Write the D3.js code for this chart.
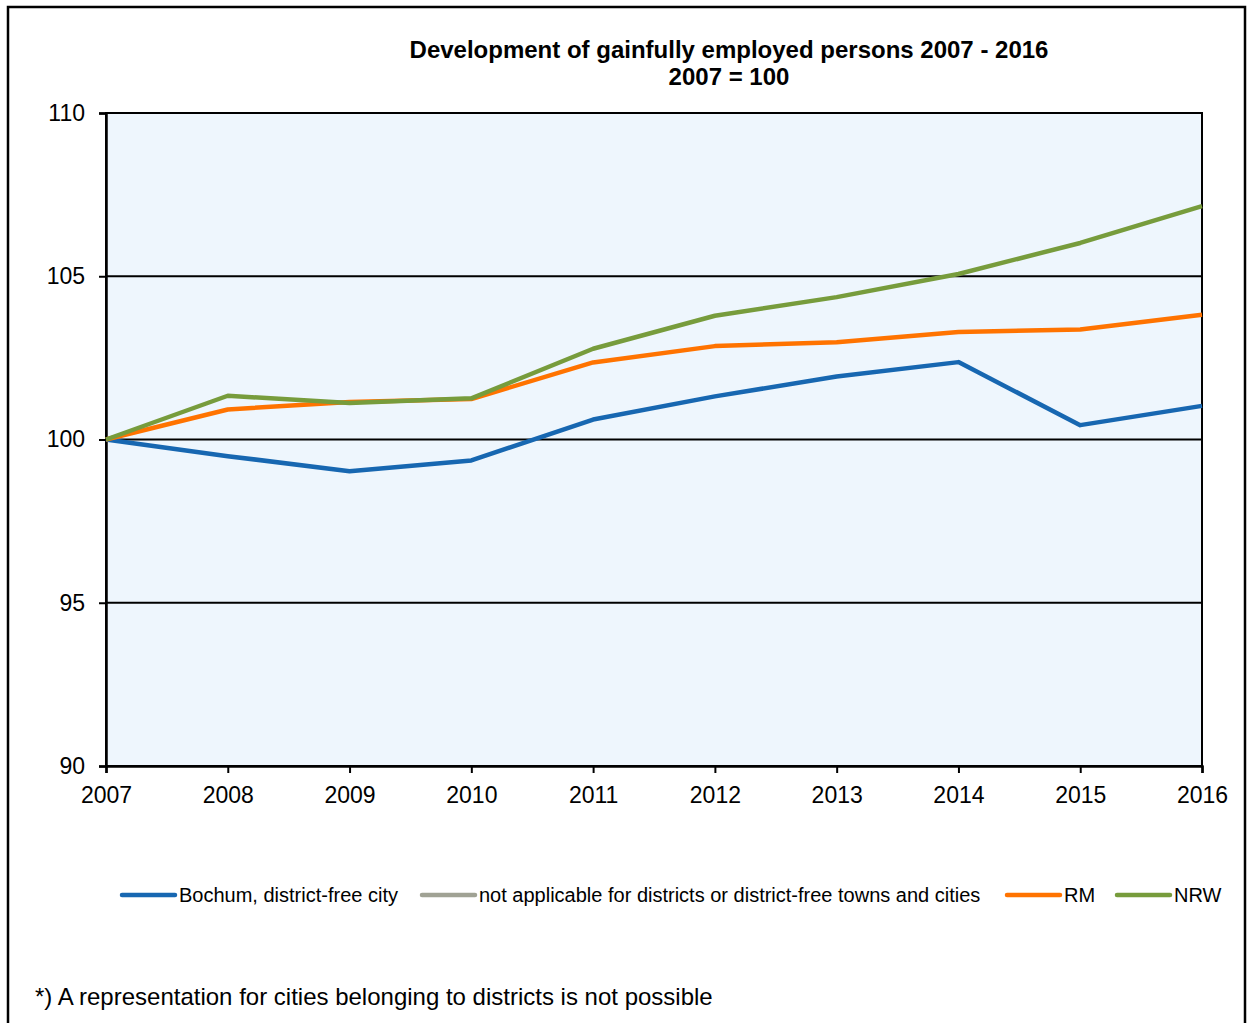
<!DOCTYPE html>
<html>
<head>
<meta charset="utf-8">
<script src="https://cdn.jsdelivr.net/npm/d3@7"></script>
<style>
  body { margin: 0; background: #fff; }
  svg { font-family: "Liberation Sans", Arial, sans-serif; }
</style>
</head>
<body>
<svg id="mainSvg" width="1249" height="1023"></svg>
<script>
// data (2007 = 100)
var years = [2007, 2008, 2009, 2010, 2011, 2012, 2013, 2014, 2015, 2016];
var bochum = [100, 99.49, 99.03, 99.36, 100.61, 101.32, 101.93, 102.37, 100.44, 101.03];
var rm = [100, 100.92, 101.15, 101.24, 102.36, 102.86, 102.98, 103.29, 103.37, 103.82];
var nrw = [100, 101.34, 101.12, 101.26, 102.78, 103.79, 104.36, 105.07, 106.02, 107.15];
var yTicks = [90, 95, 100, 105, 110];

var seriesNames = ["Bochum, district-free city", "not applicable for districts or district-free towns and cities", "RM", "NRW"];
var seriesColors = ["#1767B1", "#A0A294", "#FF7300", "#779C3C"];
var seriesValues = [bochum, [], rm, nrw];

var titleLines = ["Development of gainfully employed persons 2007 - 2016", "2007 = 100"];
var footnote = "*) A representation for cities belonging to districts is not possible";

var svg = d3.select("#mainSvg");

// outer frame
svg.append("rect").attr("x", 8).attr("y", 7).attr("width", 1237).attr("height", 1040)
    .style("fill", "#fff").style("stroke", "#000").style("stroke-width", 2.5);

var plot = {left: 106, right: 1202, top: 113, bottom: 766};

var x = d3.scaleLinear().domain([2007, 2016]).range([plot.left, plot.right]);
var y = d3.scaleLinear().domain([90, 110]).range([plot.bottom, plot.top]);

// plot background
svg.append("rect").attr("x", plot.left).attr("y", plot.top)
    .attr("width", plot.right - plot.left).attr("height", plot.bottom - plot.top)
    .style("fill", "#EEF6FD").style("stroke", "#000").style("stroke-width", 2);

// gridlines
svg.selectAll(".grid").data(yTicks.filter(function (d) { return d > 90 && d < 110; }))
    .enter().append("line").attr("class", "grid")
    .attr("x1", plot.left).attr("x2", plot.right)
    .attr("y1", function (d) { return y(d); }).attr("y2", function (d) { return y(d); })
    .style("stroke", "#000").style("stroke-width", 2);

// axes
var yAxis = d3.axisLeft(y).tickValues(yTicks).tickSize(7).tickPadding(14).tickFormat(d3.format("d"));
var gy = svg.append("g").attr("transform", "translate(" + plot.left + ",0)").call(yAxis);
var xAxis = d3.axisBottom(x).tickValues(years).tickSize(7).tickPadding(14).tickFormat(d3.format("d"));
var gx = svg.append("g").attr("transform", "translate(0," + plot.bottom + ")").call(xAxis);

[gx, gy].forEach(function (g) {
    g.select(".domain").style("stroke", "#000").style("stroke-width", 2.5);
    g.selectAll(".tick line").style("stroke", "#000").style("stroke-width", 2);
    g.selectAll(".tick text").style("font-size", "23px").style("fill", "#000")
        .style("font-family", "'Liberation Sans', Arial, sans-serif");
});

// series lines
var line = d3.line()
    .x(function (d, i) { return x(years[i]); })
    .y(function (d) { return y(d); });

svg.selectAll(".series").data(seriesValues.map(function (v, i) {
        return {values: v, color: seriesColors[i]};
    }).filter(function (d) { return d.values.length > 0; }))
    .enter().append("path").attr("class", "series")
    .attr("d", function (d) { return line(d.values); })
    .style("fill", "none").style("stroke", function (d) { return d.color; })
    .style("stroke-width", 4.5).style("stroke-linejoin", "round");

// title
svg.append("text").attr("x", 729).attr("y", 58).attr("text-anchor", "middle")
    .style("font-weight", "bold").style("font-size", "24px")
    .selectAll("tspan").data(titleLines).enter().append("tspan")
    .attr("x", 729).attr("dy", function (d, i) { return i ? 27 : 0; })
    .text(function (d) { return d; });

// legend
var legendX = [120, 420, 1005, 1115];
var leg = svg.selectAll(".legend").data(seriesNames).enter().append("g")
    .attr("class", "legend")
    .attr("transform", function (d, i) { return "translate(" + legendX[i] + ",895)"; });
leg.append("line").attr("x1", 2).attr("x2", 55)
    .style("stroke", function (d, i) { return seriesColors[i]; })
    .style("stroke-width", 4.5).style("stroke-linecap", "round");
leg.append("text").attr("x", 59).attr("dy", "0.35em").style("font-size", "20px")
    .text(function (d) { return d; });

// footnote
svg.append("text").attr("x", 35).attr("y", 1005).style("font-size", "24px").text(footnote);
</script>
</body>
</html>
